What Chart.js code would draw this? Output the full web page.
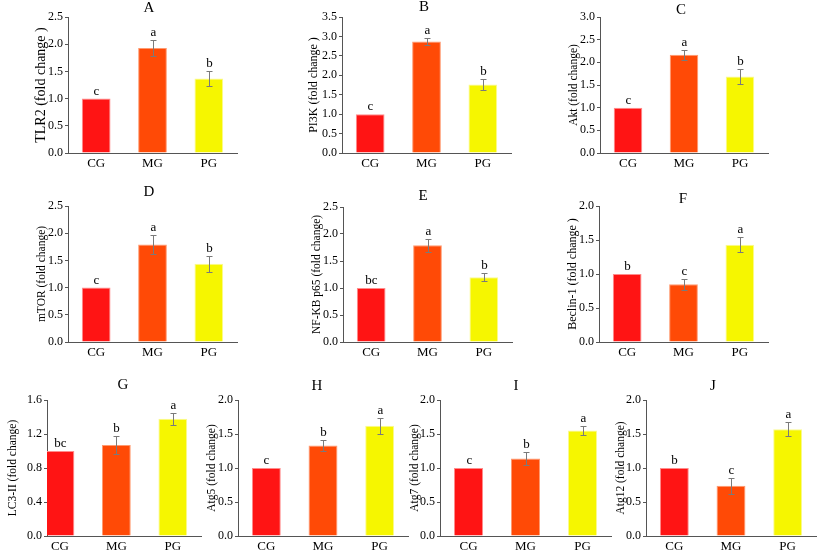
<!DOCTYPE html>
<html>
<head>
<meta charset="utf-8">
<script src="https://cdn.jsdelivr.net/npm/chart.js@4.4.1/dist/chart.umd.min.js"></script>
<style>
html,body{margin:0;padding:0;background:#fff;width:817px;height:551px;overflow:hidden;}
canvas{position:absolute;}
</style>
</head>
<body>
<script>
// ---------- DATA ----------
const groups = ['CG', 'MG', 'PG'];
const panelLetters = ['A', 'B', 'C', 'D', 'E', 'F', 'G', 'H', 'I', 'J'];
const yLabels = ['TLR2 (fold change )', 'PI3K (fold change )', 'Akt (fold change)', 'mTOR (fold change)',
  'NF-KB p65 (fold change)', 'Beclin-1 (fold change )', 'LC3-II (fold change)', 'Atg5 (fold change)',
  'Atg7 (fold change)', 'Atg12 (fold change)'];

const tlr2 = [1.00, 1.93, 1.37];   const tlr2Err = [0, 0.15, 0.13];   const tlr2Sig = ['c', 'a', 'b'];
const pi3k = [1.00, 2.87, 1.76];   const pi3kErr = [0, 0.09, 0.14];   const pi3kSig = ['c', 'a', 'b'];
const akt = [1.00, 2.17, 1.69];    const aktErr = [0, 0.11, 0.16];    const aktSig = ['c', 'a', 'b'];
const mtor = [1.00, 1.79, 1.44];   const mtorErr = [0, 0.18, 0.15];   const mtorSig = ['c', 'a', 'b'];
const nfkb = [1.00, 1.79, 1.20];   const nfkbErr = [0, 0.12, 0.07];   const nfkbSig = ['bc', 'a', 'b'];
const beclin = [1.00, 0.85, 1.43]; const beclinErr = [0, 0.08, 0.11]; const beclinSig = ['b', 'c', 'a'];
const lc3 = [1.00, 1.07, 1.38];    const lc3Err = [0, 0.11, 0.07];    const lc3Sig = ['bc', 'b', 'a'];
const atg5 = [1.00, 1.33, 1.62];   const atg5Err = [0, 0.08, 0.12];   const atg5Sig = ['c', 'b', 'a'];
const atg7 = [1.00, 1.14, 1.55];   const atg7Err = [0, 0.10, 0.07];   const atg7Sig = ['c', 'b', 'a'];
const atg12 = [1.00, 0.74, 1.57];  const atg12Err = [0, 0.12, 0.10];  const atg12Sig = ['b', 'c', 'a'];

const yMax = [2.5, 3.5, 3.0, 2.5, 2.5, 2.0, 1.6, 2.0, 2.0, 2.0];
const yStep = [0.5, 0.5, 0.5, 0.5, 0.5, 0.5, 0.4, 0.5, 0.5, 0.5];

const values = [tlr2, pi3k, akt, mtor, nfkb, beclin, lc3, atg5, atg7, atg12];
const errors = [tlr2Err, pi3kErr, aktErr, mtorErr, nfkbErr, beclinErr, lc3Err, atg5Err, atg7Err, atg12Err];
const sigs = [tlr2Sig, pi3kSig, aktSig, mtorSig, nfkbSig, beclinSig, lc3Sig, atg5Sig, atg7Sig, atg12Sig];

// ---------- STYLE / LAYOUT ----------
const barColors = ['#FF1414', '#FF4A06', '#F6F600'];
const barBorders = ['#FF8C8C', '#FF9A70', '#FAFA90'];
// x: y-axis pixel, w: axis length, x0: x-range start (category units), lo: y-title centre offset
const geom = [
  {x: 68,  top: 17,  bottom: 153, w: 169, x0: -0.5,  tx: 149, ty: 8,   fs: 14,   lo: 26.5, yw: 42},
  {x: 342, top: 17,  bottom: 153, w: 169, x0: -0.5,  tx: 424, ty: 7,   fs: 12,   lo: 28,   yw: 42},
  {x: 600, top: 17,  bottom: 153, w: 168, x0: -0.5,  tx: 681, ty: 10,  fs: 11.5, lo: 26.5, yw: 42},
  {x: 68,  top: 206, bottom: 342, w: 169, x0: -0.5,  tx: 149, ty: 192, fs: 11.5, lo: 26,   yw: 42},
  {x: 343, top: 207, bottom: 342, w: 169, x0: -0.5,  tx: 423, ty: 196, fs: 11.5, lo: 26,   yw: 42},
  {x: 599, top: 206, bottom: 342, w: 169, x0: -0.5,  tx: 683, ty: 199, fs: 12,   lo: 26.5, yw: 42},
  {x: 47,  top: 400, bottom: 536, w: 154, x0: -0.23, tx: 123, ty: 385, fs: 11.5, lo: 34.5, yw: 46},
  {x: 238, top: 400, bottom: 536, w: 170, x0: -0.5,  tx: 317, ty: 386, fs: 11.5, lo: 26,   yw: 42},
  {x: 440, top: 400, bottom: 536, w: 171, x0: -0.5,  tx: 516, ty: 386, fs: 11.5, lo: 25.5, yw: 42},
  {x: 646, top: 400, bottom: 536, w: 170, x0: -0.5,  tx: 713, ty: 386, fs: 11.5, lo: 25.5, yw: 42}
];
const PT = 26, PR = 8, XH = 24;
const FONT = "'Liberation Serif', 'Times New Roman', serif";
const AXIS = '#555555';

const annotPlugin = {
  id: 'annot',
  afterDatasetsDraw(chart) {
    const o = chart.options.plugins.annot;
    const ctx = chart.ctx;
    const xs = chart.scales.x, ys = chart.scales.y;
    ctx.save();
    o.vals.forEach((v, i) => {
      const e = o.errs[i];
      const cx = Math.round(xs.getPixelForValue(i));
      let topPx = ys.getPixelForValue(v);
      if (e > 0) {
        const yh = Math.round(ys.getPixelForValue(v + e)), yl = Math.round(ys.getPixelForValue(v - e));
        ctx.strokeStyle = '#7a7a7a';
        ctx.lineWidth = 1;
        ctx.beginPath();
        ctx.moveTo(cx + 0.5, yh); ctx.lineTo(cx + 0.5, yl);
        ctx.moveTo(cx - 2.5, yh + 0.5); ctx.lineTo(cx + 3.5, yh + 0.5);
        ctx.moveTo(cx - 2.5, yl + 0.5); ctx.lineTo(cx + 3.5, yl + 0.5);
        ctx.stroke();
        topPx = yh;
      }
      ctx.fillStyle = '#000';
      ctx.font = '13px ' + FONT;
      ctx.textAlign = 'center';
      ctx.textBaseline = 'alphabetic';
      ctx.fillText(o.sig[i], cx + 0.5, topPx - 4);
    });
    ctx.font = '15px ' + FONT;
    ctx.textAlign = 'center';
    ctx.textBaseline = 'middle';
    ctx.fillStyle = '#000';
    ctx.fillText(o.letter, o.tx, o.ty);
    ctx.restore();
  }
};

geom.forEach((g, k) => {
  const YW = g.yw;
  const cv = document.createElement('canvas');
  const cw = YW + g.w + PR;
  const ch = PT + (g.bottom - g.top) + XH;
  const left = g.x - YW, top = g.top - PT;
  cv.style.left = left + 'px';
  cv.style.top = top + 'px';
  cv.style.width = cw + 'px';
  cv.style.height = ch + 'px';
  cv.width = cw; cv.height = ch;
  document.body.appendChild(cv);
  const titlePad = YW - g.lo - g.fs * 1.2 / 2;
  new Chart(cv, {
    type: 'bar',
    data: {
      datasets: [{
        data: values[k].map((v, i) => ({x: i, y: v})),
        backgroundColor: barColors,
        borderColor: barBorders,
        borderWidth: 1,
        categoryPercentage: 1.0,
        barPercentage: 0.51
      }]
    },
    options: {
      responsive: false,
      animation: false,
      devicePixelRatio: 1,
      layout: {padding: {left: 0, top: PT, right: PR, bottom: 0}},
      plugins: {
        legend: {display: false},
        tooltip: {enabled: false},
        title: {display: false},
        annot: {vals: values[k], errs: errors[k], sig: sigs[k], letter: panelLetters[k],
                tx: g.tx - left, ty: g.ty - top}
      },
      scales: {
        x: {
          type: 'linear',
          min: g.x0, max: 2.5,
          offset: false,
          grid: {display: false, drawTicks: false},
          border: {display: true, color: AXIS, width: 1},
          afterBuildTicks(s) { s.ticks = groups.map((_, i) => ({value: i})); },
          ticks: {autoSkip: false, maxRotation: 0,
                  color: '#000', font: {family: FONT, size: 13}, padding: 3,
                  callback: v => groups[Math.round(v)] || ''},
          afterFit(s) { s.height = XH; }
        },
        y: {
          min: 0, max: yMax[k],
          grid: {display: true, drawOnChartArea: false, drawTicks: true, tickLength: 3, color: AXIS},
          border: {display: true, color: AXIS, width: 1},
          ticks: {stepSize: yStep[k], color: '#000', font: {family: FONT, size: 12}, padding: 2,
                  callback: v => Number(v).toFixed(1)},
          title: {display: true, text: yLabels[k], color: '#000',
                  font: {family: FONT, size: g.fs}, padding: {top: titlePad, bottom: 0}},
          afterFit(s) { s.width = YW; }
        }
      }
    },
    plugins: [annotPlugin]
  });
});
</script>
</body>
</html>
